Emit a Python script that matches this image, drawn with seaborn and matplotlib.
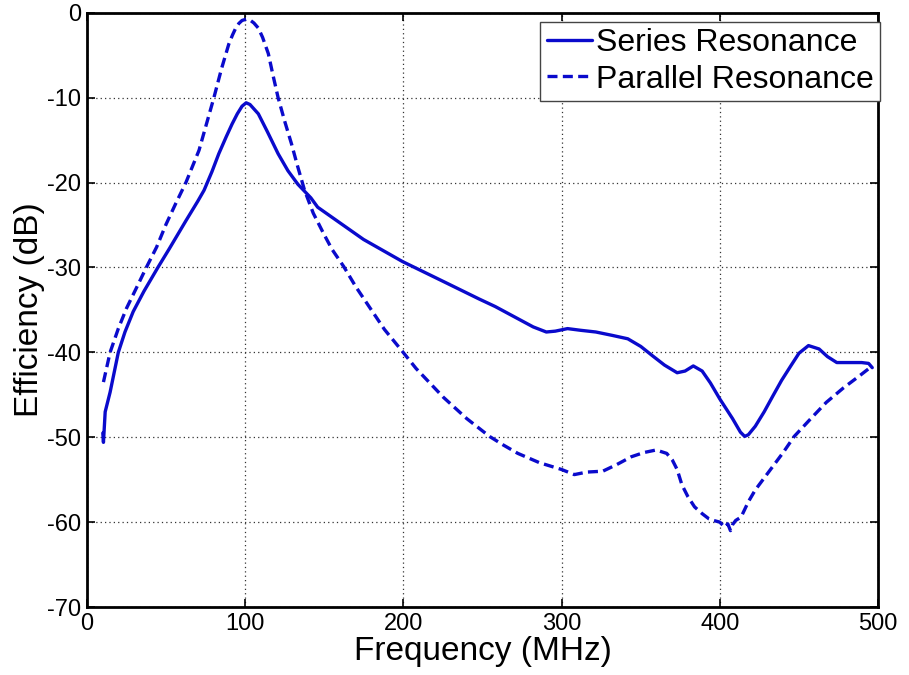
import numpy as np
import pandas as pd
import seaborn as sns
import matplotlib
matplotlib.use("Agg")
import matplotlib.pyplot as plt

# Series resonance (solid)
series_f = [10, 10.4, 11.5, 14.6, 19.8, 24, 29.2, 36, 44.8, 52, 62.5, 70, 74, 79, 83.3,
            88, 91.7, 95, 98, 100.6, 103, 108.3, 114, 120.8, 127, 133.3, 141.5, 145.8,
            158, 174.8, 199.4, 226.9, 247.7, 258, 270, 282, 290.3, 296, 303.7, 312,
            321.6, 332, 341.8, 350, 357.4, 365, 373, 378, 383.2, 388.8, 394, 400, 408,
            413, 415.7, 418, 422.4, 428, 433.6, 439, 444.8, 450, 456, 462.7, 468, 473.9,
            482, 489.6, 494, 496.3]
series_db = [-49.5, -50.6, -47.0, -44.7, -40.0, -37.6, -35.2, -32.8, -30.0, -27.8, -24.5,
             -22.2, -20.9, -18.7, -16.6, -14.6, -13.1, -11.9, -11.0, -10.6, -10.8, -11.9,
             -14.0, -16.6, -18.6, -20.2, -21.8, -22.9, -24.5, -26.7, -29.3, -31.8, -33.7,
             -34.6, -35.8, -37.0, -37.6, -37.5, -37.2, -37.4, -37.6, -38.0, -38.4, -39.3,
             -40.4, -41.5, -42.4, -42.2, -41.6, -42.2, -43.6, -45.5, -47.8, -49.4, -49.9,
             -49.7, -48.7, -47.0, -45.1, -43.3, -41.6, -40.1, -39.2, -39.6, -40.5, -41.2,
             -41.2, -41.2, -41.3, -41.8]

# Parallel resonance (dashed)
parallel_f = [10.4, 14.6, 19.8, 25, 31, 37.5, 44, 50, 56, 62.5, 70.8, 80.2, 85, 89.6,
              92, 94, 96, 98, 100.6, 103, 105.5, 108.3, 111, 114.6, 117.5, 120.8, 125,
              129.2, 133, 137.5, 143, 149.8, 155, 162.3, 170, 179, 188, 199.4, 208, 225.3,
              240, 254.4, 263, 272.3, 286, 300, 308, 316, 326, 335, 344, 352, 359.7, 366.4,
              370, 373, 376, 379.8, 384, 388.8, 393, 396, 400, 403, 405, 406.7, 408,
              410, 413.4, 418, 422.4, 428, 433.6, 440, 447, 457, 467.2, 478, 488, 496.3]
parallel_db = [-43.5, -40.0, -37.2, -34.8, -32.5, -30.0, -27.6, -24.9, -22.5, -20.0,
               -16.2, -10.0, -6.6, -3.7, -2.6, -1.8, -1.25, -0.9, -0.75, -0.85, -1.2, -1.8,
               -2.9, -4.8, -7.3, -10.0, -12.8, -15.4, -18.0, -20.9, -23.6, -26.1, -27.9,
               -29.9, -32.3, -34.8, -37.3, -39.9, -41.9, -45.3, -47.8, -49.9, -50.9, -51.9,
               -53.0, -53.8, -54.4, -54.1, -54.0, -53.2, -52.3, -51.8, -51.5, -51.9, -52.7,
               -53.8, -55.6, -57.0, -58.2, -59.0, -59.6, -59.8, -60.0, -60.6, -60.2, -61.0,
               -60.3, -59.8, -59.4, -57.6, -56.2, -54.8, -53.4, -51.8, -49.9, -47.9, -45.9,
               -44.2, -42.8, -41.6]

xticks = [0, 100, 200, 300, 400, 500]
yticks = [-70, -60, -50, -40, -30, -20, -10, 0]

sns.set_style("ticks")
plt.rcParams["font.family"] = ["Liberation Sans", "DejaVu Sans"]
plt.rcParams["axes.unicode_minus"] = False
plt.rcParams["text.color"] = "black"
plt.rcParams["axes.labelcolor"] = "black"

line_color = "#0a0acc"
df_s = pd.DataFrame({"f": series_f, "db": series_db})
df_p = pd.DataFrame({"f": parallel_f, "db": parallel_db})

fig = plt.figure(figsize=(9.09, 6.75), dpi=100)
ax = fig.add_axes([0.0957, 0.1007, 0.8703, 0.8803])

sns.lineplot(data=df_s, x="f", y="db", ax=ax, color=line_color, lw=2.4,
             label="Series Resonance", sort=False)
sns.lineplot(data=df_p, x="f", y="db", ax=ax, color=line_color, lw=2.4,
             linestyle=(0, (3, 1.6)), label="Parallel Resonance", sort=False)

ax.set_xlim(0, 500)
ax.set_ylim(-70, 0)
ax.set_xticks(xticks)
ax.set_yticks(yticks)
ax.tick_params(direction="in", length=6, width=1.2, labelsize=17, top=True, right=True,
               colors="black", pad=4)
ax.grid(True, linestyle=(0, (1, 2.5)), color="#333333", linewidth=0.9)
for sp in ax.spines.values():
    sp.set_visible(True)
    sp.set_linewidth(2)
    sp.set_color("black")

ax.set_xlabel("Frequency (MHz)", fontsize=24, labelpad=1)
ax.set_ylabel("Efficiency (dB)", fontsize=24, labelpad=2)

leg = ax.legend(loc="upper right", bbox_to_anchor=(1.003, 0.985), fontsize=23,
                frameon=True, fancybox=False, borderaxespad=0, handlelength=1.4,
                handletextpad=0.15, borderpad=0.2, labelspacing=0.2)
leg.get_frame().set_edgecolor("#444444")
leg.get_frame().set_linewidth(1.0)
leg.get_frame().set_alpha(1)
for t in leg.get_texts():
    t.set_color("black")

fig.savefig("out.png", dpi=100)
